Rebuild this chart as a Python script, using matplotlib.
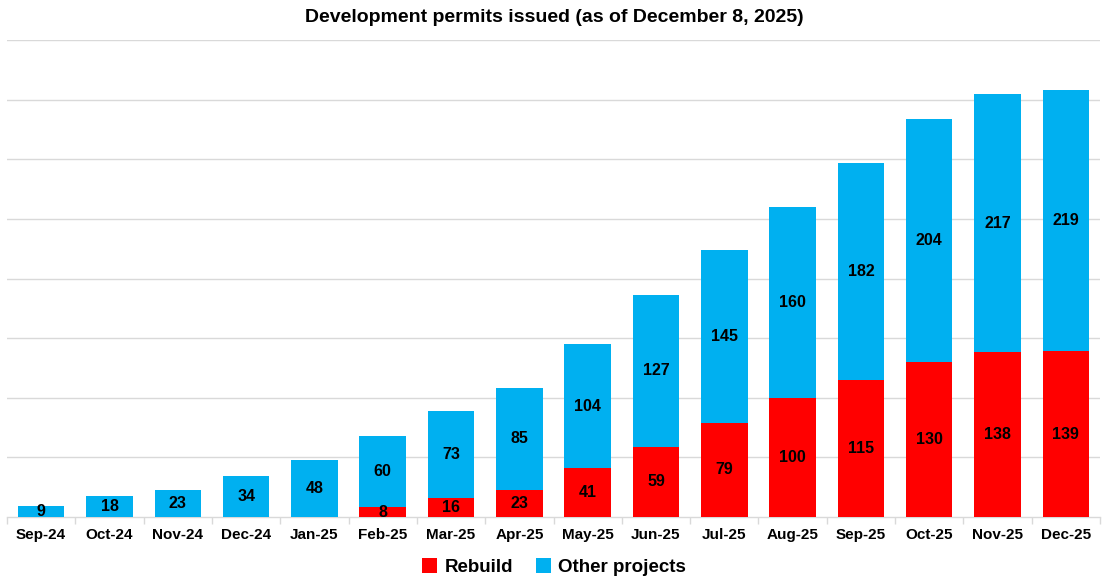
import matplotlib
matplotlib.use("Agg")
import matplotlib.pyplot as plt
import numpy as np

months = ["Sep-24", "Oct-24", "Nov-24", "Dec-24", "Jan-25", "Feb-25", "Mar-25", "Apr-25",
          "May-25", "Jun-25", "Jul-25", "Aug-25", "Sep-25", "Oct-25", "Nov-25", "Dec-25"]
rebuild = [0, 0, 0, 0, 0, 8, 16, 23, 41, 59, 79, 100, 115, 130, 138, 139]
other = [9, 18, 23, 34, 48, 60, 73, 85, 104, 127, 145, 160, 182, 204, 217, 219]

RED = "#FF0000"
BLUE = "#00B0F0"
plt.rcParams['font.family'] = ['Liberation Sans', 'DejaVu Sans']

fig = plt.figure(figsize=(11.08, 5.86), dpi=100)
ax = fig.add_axes([7/1108, 1 - 517/586, 1093/1108, 477/586])

x = np.arange(len(months))
w = 0.68
ax.bar(x, rebuild, w, color=RED, label="Rebuild", zorder=3)
ax.bar(x, other, w, bottom=rebuild, color=BLUE, label="Other projects", zorder=3)

for i in range(len(months)):
    if rebuild[i] > 0:
        ax.text(x[i], rebuild[i] / 2, str(rebuild[i]), ha='center', va='center',
                fontsize=11.5, fontweight='bold', zorder=4)
    ax.text(x[i], rebuild[i] + other[i] / 2, str(other[i]), ha='center', va='center',
            fontsize=11.5, fontweight='bold', zorder=4)

ax.set_xlim(-0.5, len(months) - 0.5)
ax.set_ylim(0, 400)
ax.set_yticks(np.arange(50, 401, 50))
ax.yaxis.grid(True, color="#D9D9D9", linewidth=1, zorder=0)
ax.tick_params(axis='y', length=0, labelleft=False)
ax.set_xticks(x)
ax.set_xticklabels(months, fontsize=11, fontweight='bold')
ax.tick_params(axis='x', length=0, pad=8)
ax.set_xticks(np.arange(-0.5, len(months)), minor=True)
ax.tick_params(axis='x', which='minor', length=5, color="#D9D9D9", width=1)
for s in ["top", "right", "left"]:
    ax.spines[s].set_visible(False)
ax.spines["bottom"].set_color("#D9D9D9")
ax.spines["bottom"].set_linewidth(1)

fig.suptitle("Development permits issued (as of December 8, 2025)", y=1 - 17/586, va='center',
             fontsize=14, fontweight='bold')
fig.legend(loc='center', bbox_to_anchor=(0.5, 1 - 567/586), ncol=2, frameon=False,
           handlelength=0.8, handleheight=0.8, handletextpad=0.4, columnspacing=1.2,
           prop={'weight': 'bold', 'size': 13.5})

fig.savefig("out.png", dpi=100)
